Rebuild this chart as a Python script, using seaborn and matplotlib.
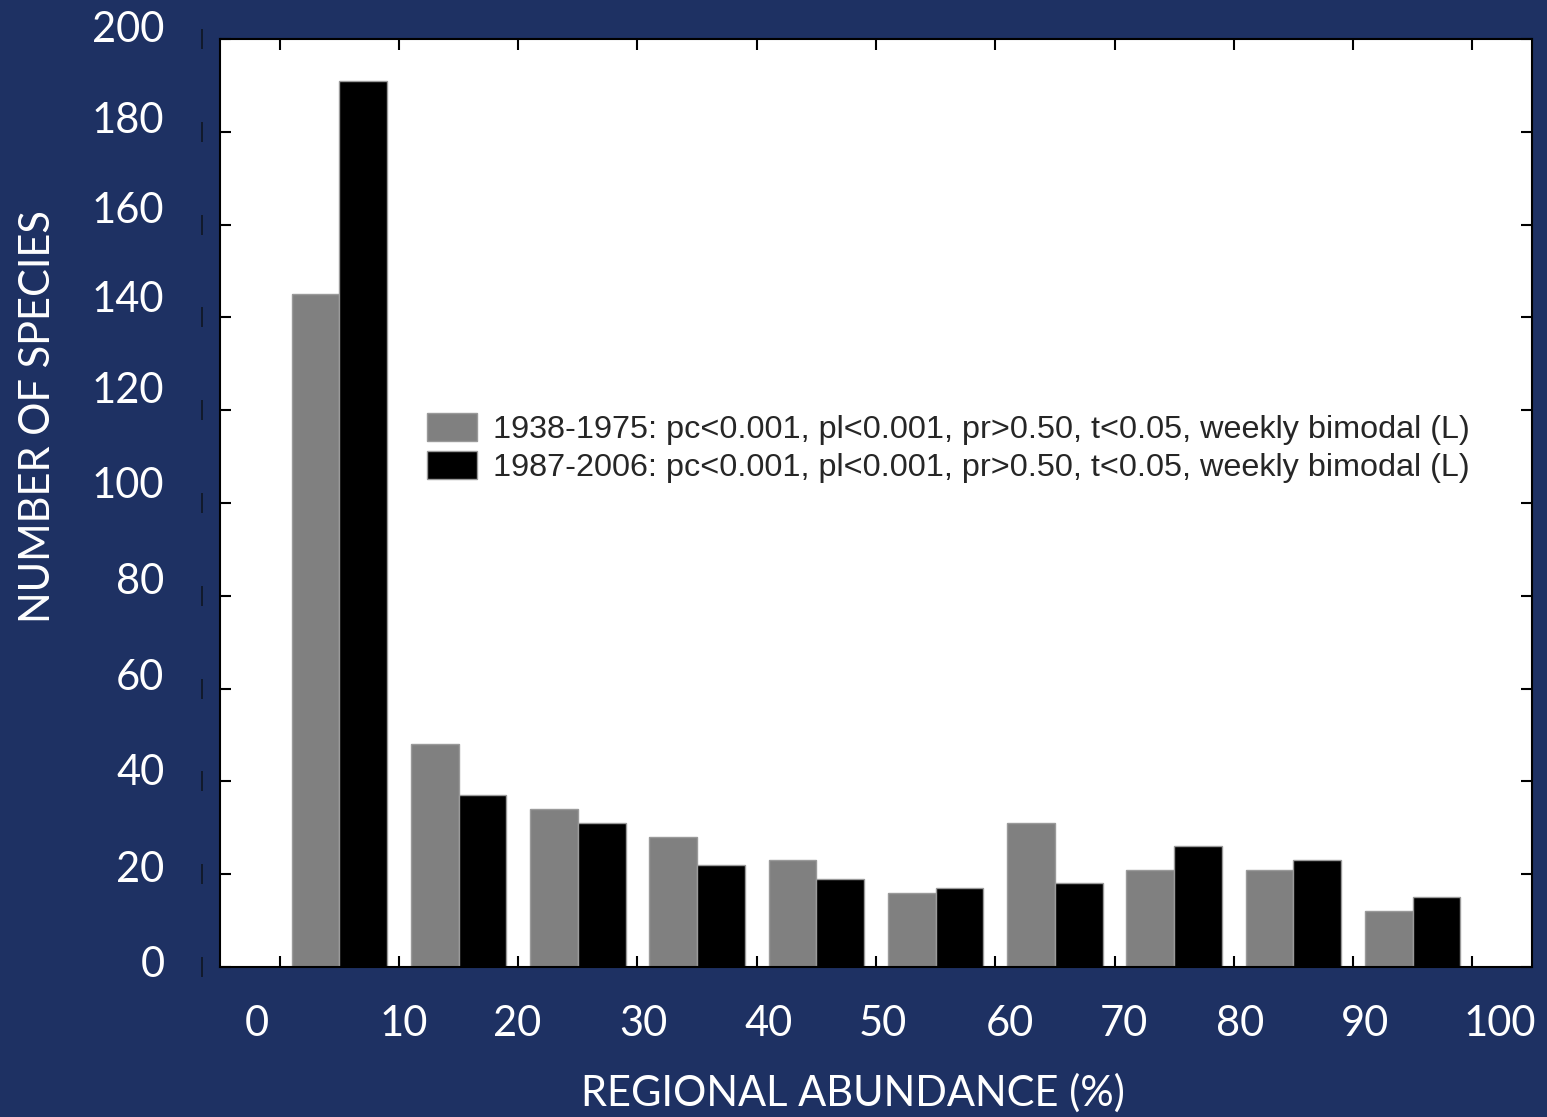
import numpy as np
import pandas as pd
import seaborn as sns
import matplotlib.pyplot as plt
from matplotlib.transforms import blended_transform_factory, ScaledTranslation

# Histogram bins of regional abundance (%), given by their centres
bin_centers = [5, 15, 25, 35, 45, 55, 65, 75, 85, 95]

# Number of species per bin for each period
counts_early = [145, 48, 34, 28, 23, 16, 31, 21, 21, 12]
counts_late = [191, 37, 31, 22, 19, 17, 18, 26, 23, 15]

period_labels = [
    "1938-1975: pc<0.001, pl<0.001, pr>0.50, t<0.05, weekly bimodal (L)",
    "1987-2006: pc<0.001, pl<0.001, pr>0.50, t<0.05, weekly bimodal (L)",
]

x_ticks = [0, 10, 20, 30, 40, 50, 60, 70, 80, 90, 100]
x_tick_labels = ["0", "10", "20", "30", "40", "50", "60", "70", "80", "90", "100"]
# where each x label text sits along the axis
x_label_spots = [-1.9, 10.4, 19.9, 30.5, 41.0, 50.6, 61.2, 70.8, 80.5, 91.0, 102.3]

y_ticks = [0, 20, 40, 60, 80, 100, 120, 140, 160, 180, 200]
y_tick_labels = ["0", "20", "40", "60", "80", "100", "120", "140", "160", "180", "200"]
# where each y label text sits along the axis
y_label_spots = [1.1, 21.6, 42.5, 63.1, 83.8, 104.5, 125.0, 144.4, 163.6, 183.0, 202.6]

navy = "#1e3163"
bar_colors = ["#808080", "#000000"]

df = pd.DataFrame({
    "abundance": bin_centers * 2,
    "species": counts_early + counts_late,
    "period": [period_labels[0]] * len(bin_centers) + [period_labels[1]] * len(bin_centers),
})

sns.set_theme(style="white")
plt.rcParams["font.family"] = ["Lato", "DejaVu Sans"]

W, H = 1547, 1117
AX_W, AX_H = 1312, 928
fig = plt.figure(figsize=(W / 100, H / 100), dpi=100, facecolor=navy)
ax = fig.add_axes([220 / W, 1 - 967 / H, AX_W / W, AX_H / H])
ax.set_facecolor("white")

sns.barplot(
    data=df, x="abundance", y="species", hue="period",
    native_scale=True, width=0.8, palette=bar_colors, saturation=1,
    edgecolor="#9a9a9a", linewidth=1.0, ax=ax,
)

ax.set_xlabel("")
ax.set_ylabel("")

for side in ["left", "right", "top", "bottom"]:
    ax.spines[side].set_visible(True)
    ax.spines[side].set_color("black")
    ax.spines[side].set_linewidth(1.5)

# tick marks inside on every side
ax.set_xticks(x_ticks, labels=[""] * len(x_ticks))
ax.set_yticks(y_ticks, labels=y_tick_labels)
ax.tick_params(which="major", direction="in", length=8, width=1.5, color="black",
               top=True, right=True, bottom=True, left=True)
ax.tick_params(axis="y", which="major", labelsize=30, labelcolor="white", pad=40)

# x label texts carried by label-only minor ticks
ax.set_xticks(x_label_spots, labels=x_tick_labels, minor=True)
ax.tick_params(axis="x", which="minor", direction="in", length=0, labelsize=30,
               labelcolor="white", pad=27)

# limits last, so the label ticks do not widen the view
ax.set_xlim(-5, 105)
ax.set_ylim(0, 200)

# nudge each y label to its own spot
px_per_unit = AX_H / 200
for lab, tick, spot in zip(ax.get_yticklabels(), y_ticks, y_label_spots):
    dy = (spot - tick) * px_per_unit / fig.dpi
    lab.set_transform(lab.get_transform() + ScaledTranslation(0, dy, fig.dpi_scale_trans))

# small dark stubs just left of the frame at each y tick
stub_tf = blended_transform_factory(ax.transAxes, ax.transData)
ax.scatter([-18 / AX_W] * len(y_ticks), y_ticks, marker="|", s=200, linewidths=1.3,
           color="#101828", transform=stub_tf, clip_on=False, zorder=5)

handles, labels = ax.get_legend_handles_labels()
ax.legend(handles, labels, loc="upper left", bbox_to_anchor=(0.158, 0.597),
          frameon=False, prop={"family": "Liberation Sans", "size": 23.3},
          handlelength=1.55, handleheight=0.95, handletextpad=0.48,
          labelspacing=0.18, borderpad=0, borderaxespad=0)

fig.text(38 / W, 1 - 417 / H, "NUMBER OF SPECIES", rotation=90, color="white",
         fontsize=30, ha="center", va="center")
fig.text(853 / W, 1 - 1093 / H, "REGIONAL ABUNDANCE (%)", color="white",
         fontsize=30, ha="center", va="center")

fig.savefig("out.png", dpi=100, facecolor=navy)
